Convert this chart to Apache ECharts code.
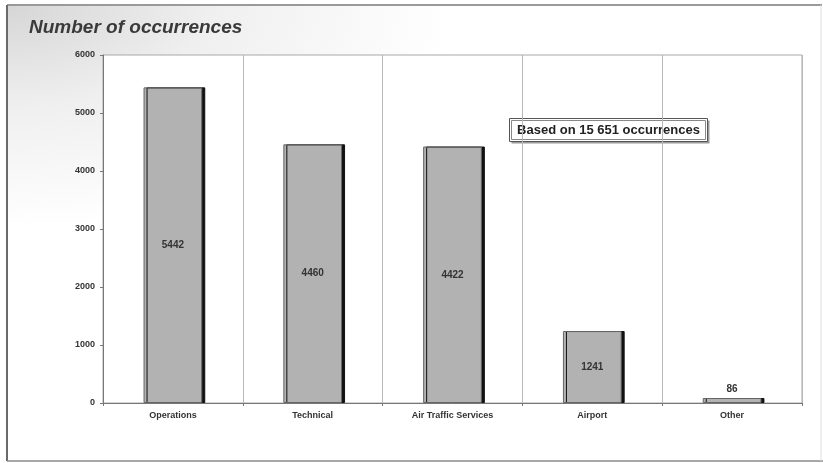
<!DOCTYPE html>
<html>
<head>
<meta charset="utf-8">
<script src="https://cdn.jsdelivr.net/npm/echarts@6/dist/echarts.min.js"></script>
<style>
  html, body { margin: 0; padding: 0; background: #fff; }
  #chart { width: 823px; height: 463px; }
</style>
</head>
<body>
<div id="chart"></div>
<script>
// Occurrences by category
const categories = ['Operations', 'Technical', 'Air Traffic Services', 'Airport', 'Other'];
const occurrences = [5442, 4460, 4422, 1241, 86];
const yTicks = [0, 1000, 2000, 3000, 4000, 5000, 6000];
const titleText = 'Number of occurrences';
const noteText = 'Based on 15 651 occurrences';

const chart = echarts.init(document.getElementById('chart'));

const font = '"Liberation Sans", Arial, sans-serif';

chart.setOption({
  backgroundColor: '#ffffff',
  animation: false,
  graphic: [
    {
      // soft grey wash in the top-left corner of the frame
      type: 'rect',
      z: -10,
      x: 7, y: 5, scaleX: 2,
      shape: { x: 0, y: 0, width: 407, height: 456 },
      style: {
        fill: {
          type: 'radial', x: 0, y: 0, r: 0.55,
          colorStops: [
            { offset: 0, color: '#d6d6d6' },
            { offset: 0.45, color: '#efefef' },
            { offset: 1, color: '#ffffff' }
          ]
        },
        stroke: null
      }
    },
    { type: 'line', shape: { x1: 7, y1: 5, x2: 822, y2: 5 }, style: { stroke: '#9a9a9a', lineWidth: 2 } },
    { type: 'line', shape: { x1: 7, y1: 5, x2: 7, y2: 461 }, style: { stroke: '#6a6a6a', lineWidth: 2 } },
    { type: 'line', shape: { x1: 7, y1: 461, x2: 823, y2: 461 }, style: { stroke: '#8a8a8a', lineWidth: 1.5 } },
    { type: 'line', shape: { x1: 821, y1: 5, x2: 821, y2: 461 }, style: { stroke: '#e0e0e0', lineWidth: 1 } },
    {
      type: 'text', left: 29, top: 18,
      style: {
        text: titleText,
        font: 'italic bold 19px ' + font,
        fill: '#3a3a3a'
      }
    },
    {
      type: 'group', left: 509, top: 118, z: 20,
      children: [
        { type: 'rect', shape: { x: 2, y: 2, width: 198, height: 23 }, style: { fill: '#9a9a9a' } },
        { type: 'rect', shape: { x: 0, y: 0, width: 198, height: 23 }, style: { fill: '#ffffff', stroke: '#555555', lineWidth: 1 } },
        { type: 'rect', shape: { x: 2, y: 2, width: 194, height: 19 }, style: { fill: '#ffffff', stroke: '#888888', lineWidth: 1 } },
        {
          type: 'text', x: 99, y: 12,
          style: {
            text: noteText, font: 'bold 13px ' + font, fill: '#222',
            align: 'center', verticalAlign: 'middle'
          }
        }
      ]
    }
  ],
  grid: {
    left: 103, right: 21, top: 55, bottom: 60,
    show: true, borderColor: '#a8a8a8', borderWidth: 1, backgroundColor: '#ffffff'
  },
  xAxis: {
    type: 'category',
    data: categories,
    axisLine: { lineStyle: { color: '#777', width: 1 } },
    axisTick: { show: true, length: 3, lineStyle: { color: '#777' } },
    splitLine: { show: true, interval: 0, lineStyle: { color: '#b8b8b8', width: 1 } },
    axisLabel: {
      interval: 0, margin: 8,
      fontFamily: font, fontSize: 9, fontWeight: 'bold', color: '#333'
    }
  },
  yAxis: {
    type: 'value',
    min: yTicks[0], max: yTicks[yTicks.length - 1], interval: 1000,
    axisLine: { show: true, lineStyle: { color: '#777' } },
    axisTick: { show: true, length: 3, inside: false, lineStyle: { color: '#777' } },
    splitLine: { show: false },
    axisLabel: {
      margin: 8,
      fontFamily: font, fontSize: 9, fontWeight: 'bold', color: '#333',
      formatter: v => String(v)
    }
  },
  series: [{
    type: 'bar',
    data: occurrences.map(v => v < 500
      // the smallest bar is too short for an inside label; place it above
      ? { value: v, label: { position: 'top', distance: 4 } }
      : v),
    barWidth: '42%',
    itemStyle: {
      color: '#b2b2b2',
      borderColor: '#666666',
      borderWidth: 1,
      shadowColor: '#111111',
      shadowOffsetX: 3,
      shadowOffsetY: 0,
      shadowBlur: 0
    },
    label: {
      show: true,
      position: 'inside',
      fontFamily: font, fontSize: 10, fontWeight: 'bold', color: '#333',
      formatter: p => String(p.value)
    }
  }]
});
</script>
</body>
</html>
